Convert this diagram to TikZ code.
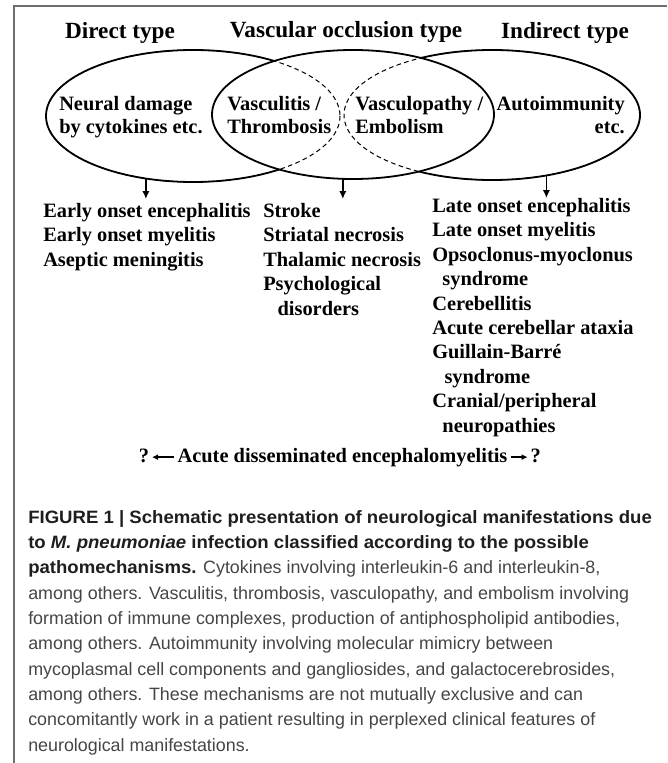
\documentclass[tikz,border=0pt]{standalone}
\usepackage{fontspec}
\setmainfont{Liberation Serif}
\setsansfont{Liberation Sans}
\newfontfamily\capboldfont[FakeStretch=1.04]{Liberation Sans}
\usetikzlibrary{shapes.geometric, arrows.meta, positioning}
\usepackage{xcolor}
\definecolor{framegray}{HTML}{6E6E6E}
\definecolor{captext}{HTML}{454545}
\definecolor{capbold}{HTML}{1E1E1E}

\begin{document}
\begin{tikzpicture}[
  x=0.75pt, y=-0.75pt,
  oval/.style={
    draw,
    ellipse,
    line width=1.35pt,
    inner sep=0pt,
    outer sep=0pt
  },
  title/.style={font=\bfseries\fontsize{17.4}{21}\selectfont, anchor=base},
  inlabel/.style={font=\bfseries\fontsize{15.3}{17.3}\selectfont, inner sep=0pt},
  listing/.style={
    font=\bfseries\fontsize{15.3}{18.3}\selectfont,
    align=left,
    inner sep=0pt,
    anchor=north west
  },
  arrow/.style={-{Latex[length=6pt, width=5.5pt]}, line width=1.1pt},
  smallarrow/.style={-{Latex[length=4.5pt, width=4.5pt]}, line width=1.2pt}
]
\useasboundingbox (0,0) rectangle (667,763);

% frame of the figure panel
\draw[framegray, line width=1pt] (14,763) -- (14,6) -- (667,6);

% titles
\node[title] (directtitle) at (120,39) {Direct type};
\node[title] (vasctitle) at (346,38) {Vascular occlusion type};
\node[title] (indirtitle) at (565,39) {Indirect type};

% the three overlapping ellipses
\node[oval, minimum width=220.5pt, minimum height=99pt] (direct) at (193,116) {};
\node[oval, minimum width=222pt, minimum height=97.5pt] (indirect) at (492,115) {};
\fill[white] (353,114.5) ellipse (141 and 64.5);
\draw[dashed, line width=0.75pt, dash pattern=on 3.5pt off 2.5pt]
  (193,116) ellipse (147 and 66)
  (492,115) ellipse (148 and 65);
\node[oval, minimum width=211.5pt, minimum height=96.75pt] (vascular) at (353,114.5) {};

% texts inside the ellipses
\node[inlabel, align=left, anchor=north west] (damage) at (59,96) {Neural damage\\by cytokines etc.};
\node[inlabel, align=left, anchor=north west] (vasculitis) at (227,96) {Vasculitis /\\Thrombosis};
\node[inlabel, align=left, anchor=north west] (vasculopathy) at (355,96) {Vasculopathy /\\Embolism};
\node[inlabel, align=right, anchor=north east] (autoimmunity) at (625,96) {Autoimmunity\\etc.};

% manifestations
\node[listing] (early) at (43,203) {Early onset encephalitis\\Early onset myelitis\\Aseptic meningitis};
\node[listing] (stroke) at (263,203) {Stroke\\Striatal necrosis\\Thalamic necrosis\\Psychological\\\hspace*{0.7em}disorders};
\node[listing] (late) at (432,198) {Late onset encephalitis\\Late onset myelitis\\Opsoclonus-myoclonus\\\hspace*{0.5em}syndrome\\Cerebellitis\\Acute cerebellar ataxia\\Guillain-Barré\\\hspace*{0.6em}syndrome\\Cranial/peripheral\\\hspace*{0.5em}neuropathies};

\draw[arrow, shorten >=3pt] (direct.233) -- (direct.233 |- early.north);
\draw[arrow, shorten >=3pt] (vascular.261.2) -- (vascular.261.2 |- stroke.north);
\draw[arrow] (indirect.312.4) -- (indirect.312.4 |- late.north);

% ADEM
\node[inlabel, anchor=base] (adem) at (342.5,462) {Acute disseminated encephalomyelitis};
\node[inlabel, base left=21pt of adem] (qleft) {?};
\node[inlabel, base right=17pt of adem] (qright) {?};
\draw[smallarrow, shorten <=2.5pt, shorten >=2pt] (adem.west) -- (adem.west -| qleft.east);
\draw[smallarrow, shorten <=2.5pt, shorten >=2pt] (adem.east) -- (adem.east -| qright.west);

% caption
\node[font=\sffamily\fontsize{13.4}{19}\selectfont, text=captext, align=left,
  inner sep=0pt, anchor=north west] (caption) at (28,510) {%
\textcolor{capbold}{\capboldfont\bfseries FIGURE 1 | Schematic presentation of neurological manifestations due}\\
\textcolor{capbold}{\capboldfont\bfseries to \textit{M. pneumoniae} infection classified according to the possible}\\
\textcolor{capbold}{\capboldfont\bfseries pathomechanisms.} Cytokines involving interleukin-6 and interleukin-8,\\
among others. Vasculitis, thrombosis, vasculopathy, and embolism involving\\
formation of immune complexes, production of antiphospholipid antibodies,\\
among others. Autoimmunity involving molecular mimicry between\\
mycoplasmal cell components and gangliosides, and galactocerebrosides,\\
among others. These mechanisms are not mutually exclusive and can\\
concomitantly work in a patient resulting in perplexed clinical features of\\
neurological manifestations.};

\end{tikzpicture}
\end{document}
